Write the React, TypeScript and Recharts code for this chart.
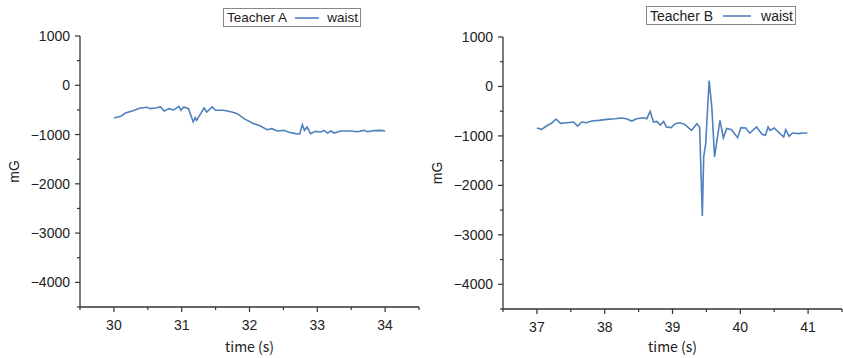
import { LineChart, Line, XAxis, YAxis, Legend } from 'recharts';

const timeA = [30.0, 30.1, 30.17, 30.27, 30.39, 30.49, 30.54, 30.61, 30.69, 30.74, 30.81, 30.88, 30.96, 30.99, 31.03, 31.1, 31.17, 31.2, 31.22, 31.28, 31.33, 31.37, 31.45, 31.5, 31.62, 31.74, 31.82, 31.92, 32.04, 32.16, 32.26, 32.33, 32.41, 32.51, 32.58, 32.68, 32.74, 32.78, 32.81, 32.85, 32.9, 32.97, 33.05, 33.1, 33.15, 33.2, 33.25, 33.34, 33.49, 33.59, 33.69, 33.74, 33.84, 33.94, 34.0];
const waistA = [-665, -630, -563, -522, -461, -447, -474, -461, -440, -522, -474, -501, -427, -508, -440, -474, -745, -657, -711, -576, -461, -542, -440, -508, -508, -542, -576, -678, -766, -827, -901, -881, -928, -915, -955, -982, -989, -799, -915, -847, -982, -935, -948, -915, -969, -928, -969, -928, -928, -942, -915, -942, -921, -915, -928];

const timeB = [37.0, 37.07, 37.14, 37.22, 37.28, 37.35, 37.44, 37.54, 37.6, 37.66, 37.73, 37.81, 37.91, 38.03, 38.15, 38.25, 38.32, 38.4, 38.47, 38.57, 38.62, 38.67, 38.72, 38.77, 38.82, 38.87, 38.91, 38.98, 39.04, 39.11, 39.18, 39.28, 39.36, 39.4, 39.44, 39.46, 39.49, 39.54, 39.58, 39.62, 39.7, 39.75, 39.8, 39.87, 39.96, 40.01, 40.08, 40.14, 40.24, 40.32, 40.37, 40.41, 40.44, 40.5, 40.56, 40.64, 40.67, 40.72, 40.77, 40.86, 40.93, 40.99];
const waistB = [-840, -867, -800, -740, -659, -746, -733, -719, -800, -719, -733, -699, -686, -665, -652, -638, -652, -699, -652, -632, -652, -504, -719, -706, -780, -706, -820, -833, -753, -733, -766, -887, -753, -820, -2621, -1425, -1156, 121, -417, -1425, -685, -1040, -850, -875, -1035, -833, -840, -945, -820, -968, -988, -820, -887, -840, -920, -1022, -874, -1008, -941, -954, -941, -941];

const yTicks = [-4500, -4000, -3500, -3000, -2500, -2000, -1500, -1000, -500, 0, 500, 1000];
const xTicksA = [29.5, 30, 30.5, 31, 31.5, 32, 32.5, 33, 33.5, 34, 34.5];
const xTicksB = [36.5, 37, 37.5, 38, 38.5, 39, 39.5, 40, 40.5, 41, 41.5];

const FONT = '"Liberation Sans", Arial, sans-serif';
const AXIS = '#333';
const BLUE = '#4f81bd';

const fmt = (v: number) => (v < 0 ? '\u2212' + Math.abs(v) : String(v));

const YTick = ({ x, y, payload }: any) => {
  const v = payload.value;
  const major = v % 1000 === 0;
  return (
    <g>
      <line x1={x} x2={x - (major ? 5 : 3)} y1={y} y2={y} stroke={AXIS} strokeWidth={1.2} />
      {major && (
        <text x={x - 10} y={y} dy={5} textAnchor="end" fontSize={14} fontFamily={FONT} fill="#222">
          {fmt(v)}
        </text>
      )}
    </g>
  );
};

const XTick = ({ x, y, payload }: any) => {
  const v = payload.value;
  const major = Number.isInteger(v);
  return (
    <g>
      <line x1={x} x2={x} y1={y} y2={y + (major ? 5 : 3)} stroke={AXIS} strokeWidth={1.2} />
      {major && (
        <text x={x} y={y + 23} textAnchor="middle" fontSize={14} fontFamily={FONT} fill="#222">
          {v}
        </text>
      )}
    </g>
  );
};

const LegendBox = ({ title, name, width, lineW, fontSize }: any) => (
  <div
    style={{
      display: 'flex',
      alignItems: 'center',
      justifyContent: 'space-between',
      border: '1px solid #888',
      background: '#fff',
      width,
      height: 19,
      boxSizing: 'border-box',
      padding: '0 2px 0 3px',
      fontFamily: FONT,
      fontSize,
      color: '#222',
      whiteSpace: 'nowrap',
    }}
  >
    <span>{title}</span>
    <svg width={lineW} height={10}>
      <line x1={0} x2={lineW} y1={5} y2={5} stroke={BLUE} strokeWidth={1.6} />
    </svg>
    <span>{name}</span>
  </div>
);

function Panel({ time, waist, xTicks, title, width, top, yw, bottom, legendLeft, legendTop, legendW, lineW, legendFont }: any) {
  const data = time.map((t: number, i: number) => ({ t, waist: waist[i] }));
  const h = 358;
  const plotTop = top;
  const plotBottom = h - bottom - 30;
  const plotCenterX = (yw + width - 1) / 2;
  return (
    <LineChart width={width} height={h} data={data} margin={{ top, right: 1, bottom, left: 0 }}>
      <XAxis
        dataKey="t"
        type="number"
        domain={[xTicks[0], xTicks[xTicks.length - 1]]}
        ticks={xTicks}
        tick={<XTick />}
        tickSize={0}
        tickMargin={0}
        tickLine={false}
        height={30}
        axisLine={{ stroke: AXIS, strokeWidth: 1.3 }}
        interval={0}
        allowDataOverflow
      />
      <YAxis
        type="number"
        domain={[-4500, 1000]}
        ticks={yTicks}
        tick={<YTick />}
        tickSize={0}
        tickMargin={0}
        tickLine={false}
        width={yw}
        axisLine={{ stroke: AXIS, strokeWidth: 1.3 }}
        interval={0}
        allowDataOverflow
      />
      <Legend
        layout="vertical"
        align="center"
        verticalAlign="middle"
        wrapperStyle={{ top: legendTop, left: legendLeft, width: legendW }}
        content={() => <LegendBox title={title} name="waist" width={legendW} lineW={lineW} fontSize={legendFont} />}
      />
      <Line
        type="linear"
        dataKey="waist"
        name="waist"
        stroke={BLUE}
        strokeWidth={1.6}
        dot={false}
        isAnimationActive={false}
      />
      <text
        x={yw - 61}
        y={(plotTop + plotBottom) / 2}
        transform={`rotate(-90, ${yw - 61}, ${(plotTop + plotBottom) / 2})`}
        textAnchor="middle"
        fontSize={14}
        fontFamily={FONT}
        fill="#222"
      >
        mG
      </text>
      <text
        x={plotCenterX}
        y={352}
        textAnchor="middle"
        fontSize={14}
        fontFamily='"Noto Sans CJK JP", "Liberation Sans", sans-serif'
        fill="#222"
      >
        time (s)
      </text>
    </LineChart>
  );
}

export default function App() {
  return (
    <div style={{ position: 'absolute', left: 0, top: 0, width: 843, height: 358, background: '#fff' }}>
      <div style={{ position: 'absolute', left: 0, top: 0 }}>
        <Panel
          time={timeA}
          waist={waistA}
          xTicks={xTicksA}
          title="Teacher A"
          width={420}
          top={36}
          yw={80}
          bottom={21}
          legendLeft={223}
          legendTop={8}
          legendW={138}
          lineW={24}
          legendFont={13.5}
        />
      </div>
      <div style={{ position: 'absolute', left: 421, top: 0 }}>
        <Panel
          time={timeB}
          waist={waistB}
          xTicks={xTicksB}
          title="Teacher B"
          width={422}
          top={37}
          yw={82}
          bottom={19}
          legendLeft={225}
          legendTop={6}
          legendW={150}
          lineW={28}
          legendFont={14}
        />
      </div>
    </div>
  );
}
